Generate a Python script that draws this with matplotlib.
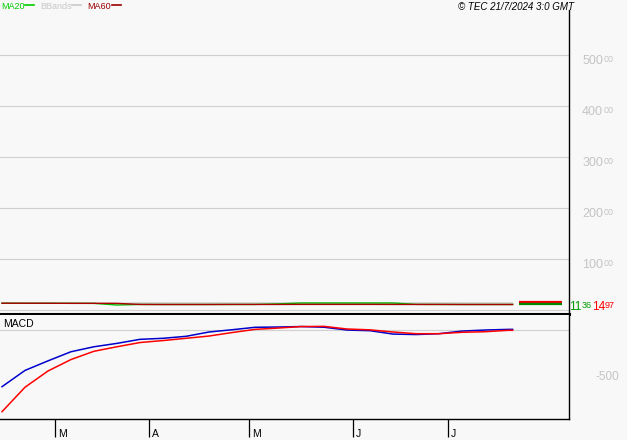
import matplotlib
matplotlib.use("Agg")
import matplotlib.pyplot as plt
from matplotlib.lines import Line2D
from matplotlib.transforms import blended_transform_factory, offset_copy

plt.rcParams['font.family'] = ['Liberation Sans', 'DejaVu Sans']

# trading-day index, sampled about once a week (mid Feb .. 19 Jul 2024)
days = [0, 5, 10, 15, 20, 25, 30, 35, 40, 45, 50, 55, 60, 65, 70, 75,
        80, 85, 90, 95, 100, 105, 110, 111]

ma60 = [13.3, 13.2, 13.2, 13.1, 13.1, 13.0, 10.9, 10.8, 10.8, 10.8, 10.9, 10.9,
        10.9, 11.0, 11.0, 11.0, 11.0, 10.9, 10.9, 10.9, 10.8, 10.8, 10.8, 10.8]
ma20 = [13.3, 13.2, 13.2, 13.1, 13.0, 9.8, 10.9, 10.8, 10.8, 10.8, 10.9, 10.9,
        12.0, 13.7, 13.7, 13.7, 13.7, 13.7, 11.0, 10.9, 10.8, 10.8, 10.8, 10.8]
bb_upper = [13.3, 13.2, 13.2, 13.1, 13.1, 13.0, 13.7, 13.7, 13.7, 13.7, 13.7, 13.7,
            13.7, 13.7, 13.7, 13.7, 13.7, 13.7, 13.7, 13.7, 13.7, 13.7, 13.7, 13.7]

macd = [-6.03, -4.30, -3.28, -2.31, -1.78, -1.42, -0.99, -0.88, -0.67, -0.21, 0.03, 0.29,
        0.32, 0.37, 0.30, 0.00, -0.07, -0.43, -0.48, -0.39, -0.11, 0.00, 0.07, 0.07]
signal = [-8.69, -6.09, -4.36, -3.14, -2.26, -1.78, -1.33, -1.12, -0.88, -0.64, -0.27, 0.07,
          0.21, 0.37, 0.39, 0.11, 0.02, -0.21, -0.39, -0.39, -0.24, -0.18, -0.03, -0.03]

last_ma20 = 11.36
last_ma60 = 14.97

month_days = [11.5, 32, 53.7, 76.3, 97]
month_labels = ["M", "A", "M", "J", "J"]
price_ticks = [100, 200, 300, 400, 500]
macd_ticks = [-5]

W, H = 627, 440
bg = "#f8f8f8"
grid_c = "#d0d0d0"
label_c = "#c4c4c4"

fig = plt.figure(figsize=(W / 100, H / 100), dpi=100, facecolor=bg)


def box(l, t, r, b):
    return [l / W, 1 - b / H, (r - l) / W, (b - t) / H]


def fx(px):
    return px / W


def fy(py):
    return 1 - py / H


xlim = (-0.435, 123.26)

# price panel
ax = fig.add_axes(box(0, 10, 569, 314), facecolor=bg)
ax.set_xlim(xlim)
ax.set_ylim(-7.84, 588.2)
ax.set_yticks([0] + price_ticks)
ax.yaxis.grid(True, color=grid_c, lw=0.8)
ax.set_axisbelow(True)
ax.tick_params(length=0, labelleft=False, labelbottom=False)
ax.set_xticks([])
for s in ["top", "left"]:
    ax.spines[s].set_visible(False)
ax.spines["right"].set_color("black")
ax.spines["right"].set_linewidth(1)
ax.spines["bottom"].set_linewidth(2.2)

ax.plot(days, bb_upper, color="#c8c8c8", lw=1, zorder=2)
ax.plot(days, ma20, color="#00bb00", lw=1, zorder=3)
ax.plot(days, ma60, color="#aa0000", lw=1, zorder=4)
x0, x1 = days[-1] + 1.4, days[-1] + 10.7
ax.hlines(last_ma60, x0, x1, color="#ee0000", lw=1.6, zorder=5)
ax.hlines(last_ma20, x0, x1, color="#008800", lw=1.6, zorder=5)

tr = blended_transform_factory(fig.transFigure, ax.transData)
tr_big = offset_copy(tr, fig=fig, y=-9 * 0.72, units="points")
tr_small = offset_copy(tr, fig=fig, y=-7 * 0.72, units="points")
for v in price_ticks:
    ax.text(fx(603), v, str(v), transform=tr_big, ha="right", va="baseline",
            fontsize=9, color=label_c)
    ax.text(fx(603.5), v, "00", transform=tr_small, ha="left", va="baseline",
            fontsize=6.5, color=label_c)

# last values at right
for val, col, xa in [(last_ma20, "#009900", 569.5), (last_ma60, "#ff0000", 592.5)]:
    whole, dec = f"{val:.2f}".split(".")
    fig.text(fx(xa), fy(309.5), whole, ha="left", va="baseline",
             fontsize=8.5, color=col)
    fig.text(fx(xa + 12.5), fy(307.8), dec, ha="left", va="baseline",
             fontsize=6.5, color=col)

# legend and stamp
for txt, col, xt, xl in [("MA20", "#00cc00", 1, 25), ("BBands", "#c8c8c8", 40, 72),
                         ("MA60", "#990000", 87, 112)]:
    fig.text(fx(xt), fy(9), txt, ha="left", va="baseline", fontsize=6.5, color=col)
    fig.add_artist(Line2D([fx(xl), fx(xl + 9)], [fy(5), fy(5)], color=col, lw=1.2))
fig.text(fx(574), fy(9.5), "© TEC 21/7/2024 3:0 GMT", ha="right", va="baseline",
         fontsize=7, style="italic")

# MACD panel
ax2 = fig.add_axes(box(0, 315, 569, 419), facecolor=bg)
ax2.set_xlim(xlim)
ax2.set_ylim(-9.47, 1.6)
for s in ["top", "left"]:
    ax2.spines[s].set_visible(False)
ax2.spines["right"].set_linewidth(1)
ax2.spines["bottom"].set_linewidth(1)
ax2.axhline(0, color=grid_c, lw=0.8, zorder=1)
ax2.plot(days, macd, color="#0000cc", lw=1.1, zorder=3)
ax2.plot(days, signal, color="#ff0000", lw=1.1, zorder=3)
ax2.set_yticks([])
ax2.set_xticks(month_days)
ax2.tick_params(axis="x", length=13, width=0.9, direction="out", labelbottom=False)
tr2 = blended_transform_factory(fig.transFigure, ax2.transData)
ax2.text(fx(3), 0.35, "MACD", transform=tr2, ha="left", va="baseline", fontsize=7.5)
for v in macd_ticks:
    ax2.text(fx(619), v, f"{v}00", transform=tr2, ha="right", va="center",
             fontsize=8.5, color=label_c)

trx = blended_transform_factory(ax2.transData, fig.transFigure)
for d, lab in zip(month_days, month_labels):
    ax2.text(d + 0.6, fy(437), lab, transform=trx, ha="left", va="baseline",
             fontsize=7.5)

fig.savefig("out.png", dpi=100, facecolor=bg)
